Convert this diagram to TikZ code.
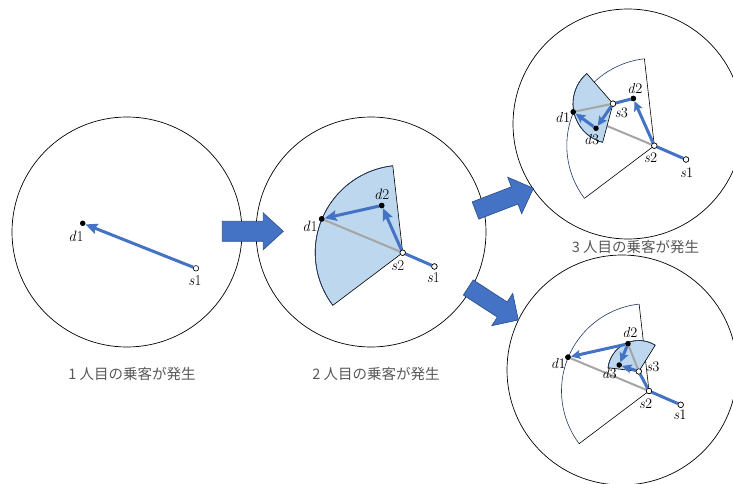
\documentclass[tikz,border=0pt]{standalone}
\usepackage{fontspec}
\newfontfamily\jp{Noto Sans CJK JP}
\usetikzlibrary{arrows.meta}
\definecolor{myblue}{HTML}{4472C4}
\definecolor{arrowedge}{HTML}{2F528F}
\definecolor{secfill}{HTML}{BDD7EE}
\definecolor{secarc}{HTML}{203864}
\definecolor{grayline}{HTML}{A5A5A5}
\definecolor{captext}{HTML}{595959}
\begin{document}
\begin{tikzpicture}[x=1pt,y=-1pt,
  frame/.style={circle, draw=black, line width=0.7pt, minimum size=230pt, inner sep=0pt},
  dpt/.style={circle, fill=black, inner sep=0pt, minimum size=5.5pt},
  spt/.style={circle, fill=white, draw=black, line width=0.6pt, inner sep=0pt, minimum size=5.5pt},
  lbl/.style={font=\fontsize{15}{15}\selectfont, inner sep=0pt},
  slbl/.style={font=\fontsize{14.5}{14.5}\selectfont, inner sep=0pt},
  captxt/.style={font=\jp\fontsize{14.5}{14.5}\selectfont, text=captext, inner sep=0pt},
  route/.style={draw=myblue, line width=3pt},
  routea/.style={route, -{Stealth[length=12pt,width=10.5pt,inset=2pt]}},
  routeb/.style={route, -{Stealth[length=9.5pt,width=9pt,inset=1.8pt]}},
  gline/.style={draw=grayline, line width=2pt},
  secedge/.style={draw=black, line width=0.6pt},
  secarcline/.style={draw=secarc, line width=0.6pt},
  bigarrow/.style={fill=myblue, draw=arrowedge, line width=0.7pt}
]
\useasboundingbox (0,0) rectangle (733,484);
\fill[white] (0,0) rectangle (733,484);

% ---- frames
\node[frame] (c1) at (127,232) {};
\node[frame] (c2) at (371,232) {};
\node[frame] (c3) at (628,124) {};
\node[frame] (c4) at (622,370) {};

% ---- captions
\node[captxt] (cap1) at (132,374) {1 人目の乗客が発生};
\node[captxt] (cap2) at (376,374) {2 人目の乗客が発生};
\node[captxt] (cap3) at (635.5,247) {3 人目の乗客が発生};

% ---- big block arrows
\begin{scope}[shift={(222.3,231.3)}]
  \draw[bigarrow] (0,-10) -- (41,-10) -- (41,-18.3) -- (61,0) -- (41,18.3) -- (41,10) -- (0,10) -- cycle;
\end{scope}
\begin{scope}[shift={(475.5,210.5)}, rotate=21]
  \draw[bigarrow] (0,-9.2) -- (42,-9.2) -- (42,-19.5) -- (62,0) -- (42,19.5) -- (42,9.2) -- (0,9.2) -- cycle;
\end{scope}
\begin{scope}[shift={(468.3,287.5)}, rotate=-33]
  \draw[bigarrow] (0,-9) -- (40.5,-9) -- (40.5,-19.2) -- (59.6,0) -- (40.5,19.2) -- (40.5,9) -- (0,9) -- cycle;
\end{scope}

% ================= panel 1
\node[dpt] (a-d1) at (82.7,223.3) {};
\node[spt] (a-s1) at (196,268.3) {};
\draw[routea] (a-s1) -- (a-d1);
\node[lbl] (a-ld1) at (76,236) {\textit{d}1};
\node[lbl] (a-ls1) at (195,281) {\textit{s}1};

% ================= panel 2
\coordinate (b-c) at (402.7,252.7);
\filldraw[fill=secfill, secedge] (b-c) -- ++(96.5:87.5pt) arc[start angle=96.5, end angle=217, radius=87.5pt] -- cycle;
\draw[secarcline] (b-c) ++(96.5:87.5pt) arc[start angle=96.5, end angle=217, radius=87.5pt];
\node[spt] (b-s2) at (402.7,252.7) {};
\node[spt] (b-s1) at (434.4,266.5) {};
\node[dpt] (b-d1) at (321.7,218.9) {};
\node[dpt] (b-d2) at (381.7,205.5) {};
\draw[gline] (b-s2) -- (b-d1);
\draw[route] (b-s1) -- (b-s2);
\draw[routea] (b-s2) -- (b-d2);
\draw[routea] (b-d2) -- (b-d1);
\node[spt] at (b-s2) {};
\node[spt] at (b-s1) {};
\node[dpt] at (b-d1) {};
\node[dpt] at (b-d2) {};
\node[lbl] (b-ld1) at (310,226) {\textit{d}1};
\node[lbl] (b-ld2) at (381.7,194) {\textit{d}2};
\node[lbl] (b-ls2) at (397.7,266) {\textit{s}2};
\node[lbl] (b-ls1) at (433.3,277.5) {\textit{s}1};

% ================= panel 3
\coordinate (c-c) at (654.3,145.7);
\draw[secedge] (c-c) ++(96.5:87.5pt) -- (c-c) -- ++(217:87.5pt);
\draw[secarcline] (c-c) ++(96.5:87.5pt) arc[start angle=96.5, end angle=217, radius=87.5pt];
\node[spt] (c-s2) at (654.3,145.7) {};
\node[spt] (c-s1) at (686,159.5) {};
\node[dpt] (c-d1) at (573.3,111.9) {};
\node[dpt] (c-d2) at (633.3,98.5) {};
\node[spt] (c-s3) at (613,103.7) {};
\node[dpt] (c-d3) at (596,128.3) {};
\draw[gline] (c-s2) -- (c-d1);
\coordinate (c-cc) at (613,103.7);
\filldraw[fill=secfill, secedge] (c-cc) -- ++(131:40pt) arc[start angle=131, end angle=255, radius=40pt] -- cycle;
\draw[secarcline] (c-cc) ++(131:40pt) arc[start angle=131, end angle=255, radius=40pt];
\draw[gline] (c-s3) -- (c-d1);
\draw[route] (c-s1) -- (c-s2);
\draw[routeb] (c-s2) -- (c-d2);
\draw[route] (c-d2) -- (c-s3);
\draw[routeb] (c-s3) -- (c-d3);
\draw[routeb] (c-d3) -- (c-d1);
\node[spt] at (c-s2) {};
\node[spt] at (c-s1) {};
\node[spt] at (c-s3) {};
\node[dpt] at (c-d1) {};
\node[dpt] at (c-d2) {};
\node[dpt] at (c-d3) {};
\node[slbl] (c-ld2) at (635,88.3) {\textit{d}2};
\node[slbl] (c-ld1) at (562.7,117.3) {\textit{d}1};
\node[slbl] (c-ls3) at (621.5,113.3) {\textit{s}3};
\node[slbl] (c-ld3) at (591.7,139.3) {\textit{d}3};
\node[slbl] (c-ls2) at (650.7,158) {\textit{s}2};
\node[slbl] (c-ls1) at (686.7,172.7) {\textit{s}1};

% ================= panel 4
\coordinate (e-c) at (649,391);
\draw[secedge] (e-c) ++(96.5:87.5pt) -- (e-c) -- ++(217:87.5pt);
\draw[secarcline] (e-c) ++(96.5:87.5pt) arc[start angle=96.5, end angle=217, radius=87.5pt];
\node[spt] (e-s2) at (649,391) {};
\node[spt] (e-s1) at (680.7,404.8) {};
\node[dpt] (e-d1) at (568,357.2) {};
\node[dpt] (e-d2) at (628,343.8) {};
\node[spt] (e-s3) at (638.8,371.5) {};
\node[dpt] (e-d3) at (619.2,365) {};
\coordinate (e-cc) at (638.8,371.5);
\filldraw[fill=secfill, secedge] (e-cc) -- ++(58:31pt) arc[start angle=58, end angle=173, radius=31pt] -- cycle;
\draw[secarcline] (e-cc) ++(58:31pt) arc[start angle=58, end angle=173, radius=31pt];
\draw[gline] (e-s2) -- (e-d1);
\draw[gline] (e-s3) -- (e-d2);
\draw[route] (e-s1) -- (e-s2);
\draw[route] (e-s2) -- (e-s3);
\draw[routeb] (e-s3) -- (e-d3);
\draw[routeb] (e-d2) -- (e-d3);
\draw[routeb] (e-d2) -- (e-d1);
\node[spt] at (e-s2) {};
\node[spt] at (e-s1) {};
\node[spt] at (e-s3) {};
\node[dpt] at (e-d1) {};
\node[dpt] at (e-d2) {};
\node[dpt] at (e-d3) {};
\node[slbl] (e-ld2) at (630,332.7) {\textit{d}2};
\node[slbl] (e-ld1) at (558.3,364) {\textit{d}1};
\node[slbl] (e-ld3) at (609.3,373.3) {\textit{d}3};
\node[slbl] (e-ls3) at (653,367.3) {\textit{s}3};
\node[slbl] (e-ls2) at (645.7,403.3) {\textit{s}2};
\node[slbl] (e-ls1) at (680,415) {\textit{s}1};
\end{tikzpicture}
\end{document}
